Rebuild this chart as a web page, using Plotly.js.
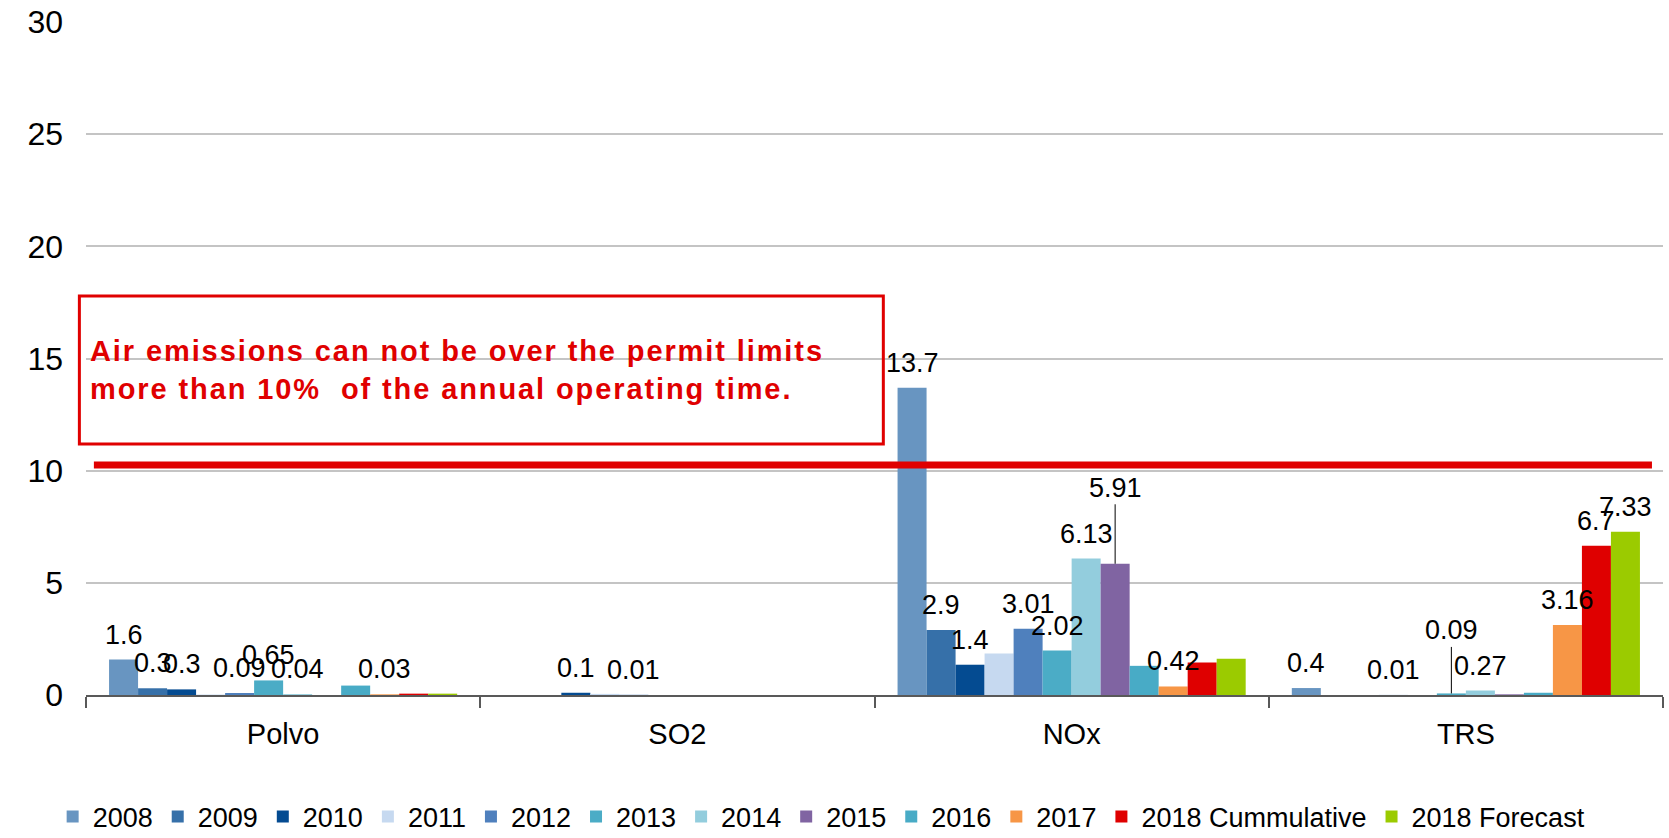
<!DOCTYPE html>
<html>
<head>
<meta charset="utf-8">
<script src="https://cdn.plot.ly/plotly-3.0.1.min.js"></script>
<style>
html,body{margin:0;padding:0;background:#fff;}
#chart{width:1669px;height:838px;}
.boxnote text{letter-spacing:1.9px;}
</style>
</head>
<body>
<div id="chart"></div>
<script>
// ---- Data ----
const categories = ['Polvo', 'SO2', 'NOx', 'TRS'];
const seriesNames = ['2008', '2009', '2010', '2011', '2012', '2013', '2014', '2015', '2016', '2017', '2018 Cummulative', '2018 Forecast'];

const v2008 = [1.58, 0, 13.7, 0.31];
const v2009 = [0.3, 0, 2.9, 0];
const v2010 = [0.25, 0.1, 1.35, 0];
const v2011 = [0.02, 0.05, 1.85, 0.01];
const v2012 = [0.09, 0.01, 2.95, 0];
const v2013 = [0.65, 0, 1.98, 0.07];
const v2014 = [0.04, 0, 6.08, 0.2];
const v2015 = [0, 0, 5.85, 0.03];
const v2016 = [0.42, 0, 1.3, 0.1];
const v2017 = [0.03, 0, 0.38, 3.12];
const v2018c = [0.06, 0, 1.45, 6.65];
const v2018f = [0.06, 0, 1.62, 7.28];

// data labels as printed on the chart
const t2008 = ['1.6', '', '13.7', '0.4'];
const t2009 = ['0.3', '', '2.9', ''];
const t2010 = ['0.3', '0.1', '1.4', ''];
const t2011 = ['', '', '', '0.01'];
const t2012 = ['0.09', '0.01', '3.01', ''];
const t2013 = ['0.65', '', '2.02', '0.09'];
const t2014 = ['0.04', '', '6.13', '0.27'];
const t2015 = ['', '', '5.91', ''];
const t2016 = ['', '', '', ''];
const t2017 = ['0.03', '', '0.42', '3.16'];
const t2018c = ['', '', '', '6.7'];
const t2018f = ['', '', '', '7.33'];

// labels drawn with a leader line: [series index, category index]
const leaderLabels = [[7, 2], [5, 3]];

const permitLimit = 10.25;
const boxText = 'Air emissions can not be over the permit limits<br>more than 10%  of the annual operating time.';

const colors = ['#6895c1', '#3670a9', '#044b91', '#c6d9f0', '#4f80bd', '#4bacc6', '#93cddd', '#8064a2', '#48abc6', '#f79646', '#df0000', '#9bcb00'];

const values = [v2008, v2009, v2010, v2011, v2012, v2013, v2014, v2015, v2016, v2017, v2018c, v2018f];
const labels = [t2008, t2009, t2010, t2011, t2012, t2013, t2014, t2015, t2016, t2017, t2018c, t2018f];

const bargap = 0.117;
const nSeries = seriesNames.length;
const groupW = 1 - bargap;
const barW = groupW / nSeries;
function barX(si, ci) { return ci - groupW / 2 + barW * (si + 0.5); }

const traces = seriesNames.map((name, i) => ({
  type: 'bar',
  name: name,
  x: categories,
  y: values[i],
  marker: {color: colors[i], line: {width: 0}},
  hoverinfo: 'skip'
}));

const labelFont = {family: 'Liberation Sans, Arial, sans-serif', size: 27, color: '#000'};
const annotations = [];
labels.forEach((arr, si) => {
  arr.forEach((txt, ci) => {
    if (!txt) return;
    const isLeader = leaderLabels.some(p => p[0] === si && p[1] === ci);
    if (isLeader) {
      annotations.push({
        x: barX(si, ci), y: values[si][ci], xref: 'x', yref: 'y',
        text: txt, showarrow: true, arrowhead: 0, arrowwidth: 1, arrowcolor: '#000',
        ax: 0, ay: (si === 7 ? -76 : -63), standoff: 0,
        font: labelFont
      });
    } else {
      annotations.push({
        x: barX(si, ci), y: values[si][ci], xref: 'x', yref: 'y',
        text: txt, showarrow: false, yanchor: 'middle', xanchor: 'center', yshift: 25,
        font: labelFont
      });
    }
  });
});

annotations.push({
  xref: 'paper', yref: 'y', x: 0.0015, y: 14.49, xanchor: 'left', yanchor: 'middle',
  align: 'left', showarrow: false, text: '<b>' + boxText + '</b>',
  font: {family: 'Liberation Sans, Arial, sans-serif', size: 29, color: '#e00000'}
});

const layout = {
  width: 1669, height: 838,
  margin: {l: 86, r: 6, t: 22, b: 143, pad: 0},
  paper_bgcolor: '#fff', plot_bgcolor: '#fff',
  barmode: 'group', bargap: bargap, bargroupgap: 0,
  showlegend: true,
  legend: {
    orientation: 'h', xref: 'container', x: 0.492, xanchor: 'center',
    yref: 'container', y: 0.025, yanchor: 'middle',
    font: {family: 'Liberation Sans, Arial, sans-serif', size: 27, color: '#000'},
    itemclick: false, itemdoubleclick: false, traceorder: 'normal'
  },
  xaxis: {
    type: 'category', showline: true, linecolor: '#595959', linewidth: 2,
    ticks: 'outside', tickson: 'boundaries', ticklen: 11, tickwidth: 2, tickcolor: '#595959',
    tickfont: {family: 'Liberation Sans, Arial, sans-serif', size: 29, color: '#000'},
    ticklabelstandoff: 12, showgrid: false, zeroline: false, fixedrange: true
  },
  yaxis: {
    range: [0, 30], dtick: 5, showline: false, zeroline: false,
    gridcolor: '#c4c4c4', gridwidth: 2, ticks: '',
    tickfont: {family: 'Liberation Sans, Arial, sans-serif', size: 32, color: '#000'},
    ticklabelstandoff: 22, fixedrange: true
  },
  shapes: [
    {type: 'rect', xref: 'paper', yref: 'y', x0: -0.0042, x1: 0.5056, y0: 11.19, y1: 17.79,
     line: {color: '#e00000', width: 3}, fillcolor: 'rgba(0,0,0,0)', layer: 'above'},
    {type: 'line', xref: 'paper', yref: 'y', x0: 0.005, x1: 0.993, y0: permitLimit, y1: permitLimit,
     line: {color: '#e00000', width: 7}, layer: 'above'}
  ],
  annotations: annotations,
  hovermode: false
};

Plotly.newPlot('chart', traces, layout, {displayModeBar: false, staticPlot: true}).then(gd => {
  // tag the note annotation so CSS letter-spacing applies to it
  const notes = gd.querySelectorAll('.annotation');
  const last = notes[notes.length - 1];
  if (last) last.classList.add('boxnote');
});
</script>
</body>
</html>
